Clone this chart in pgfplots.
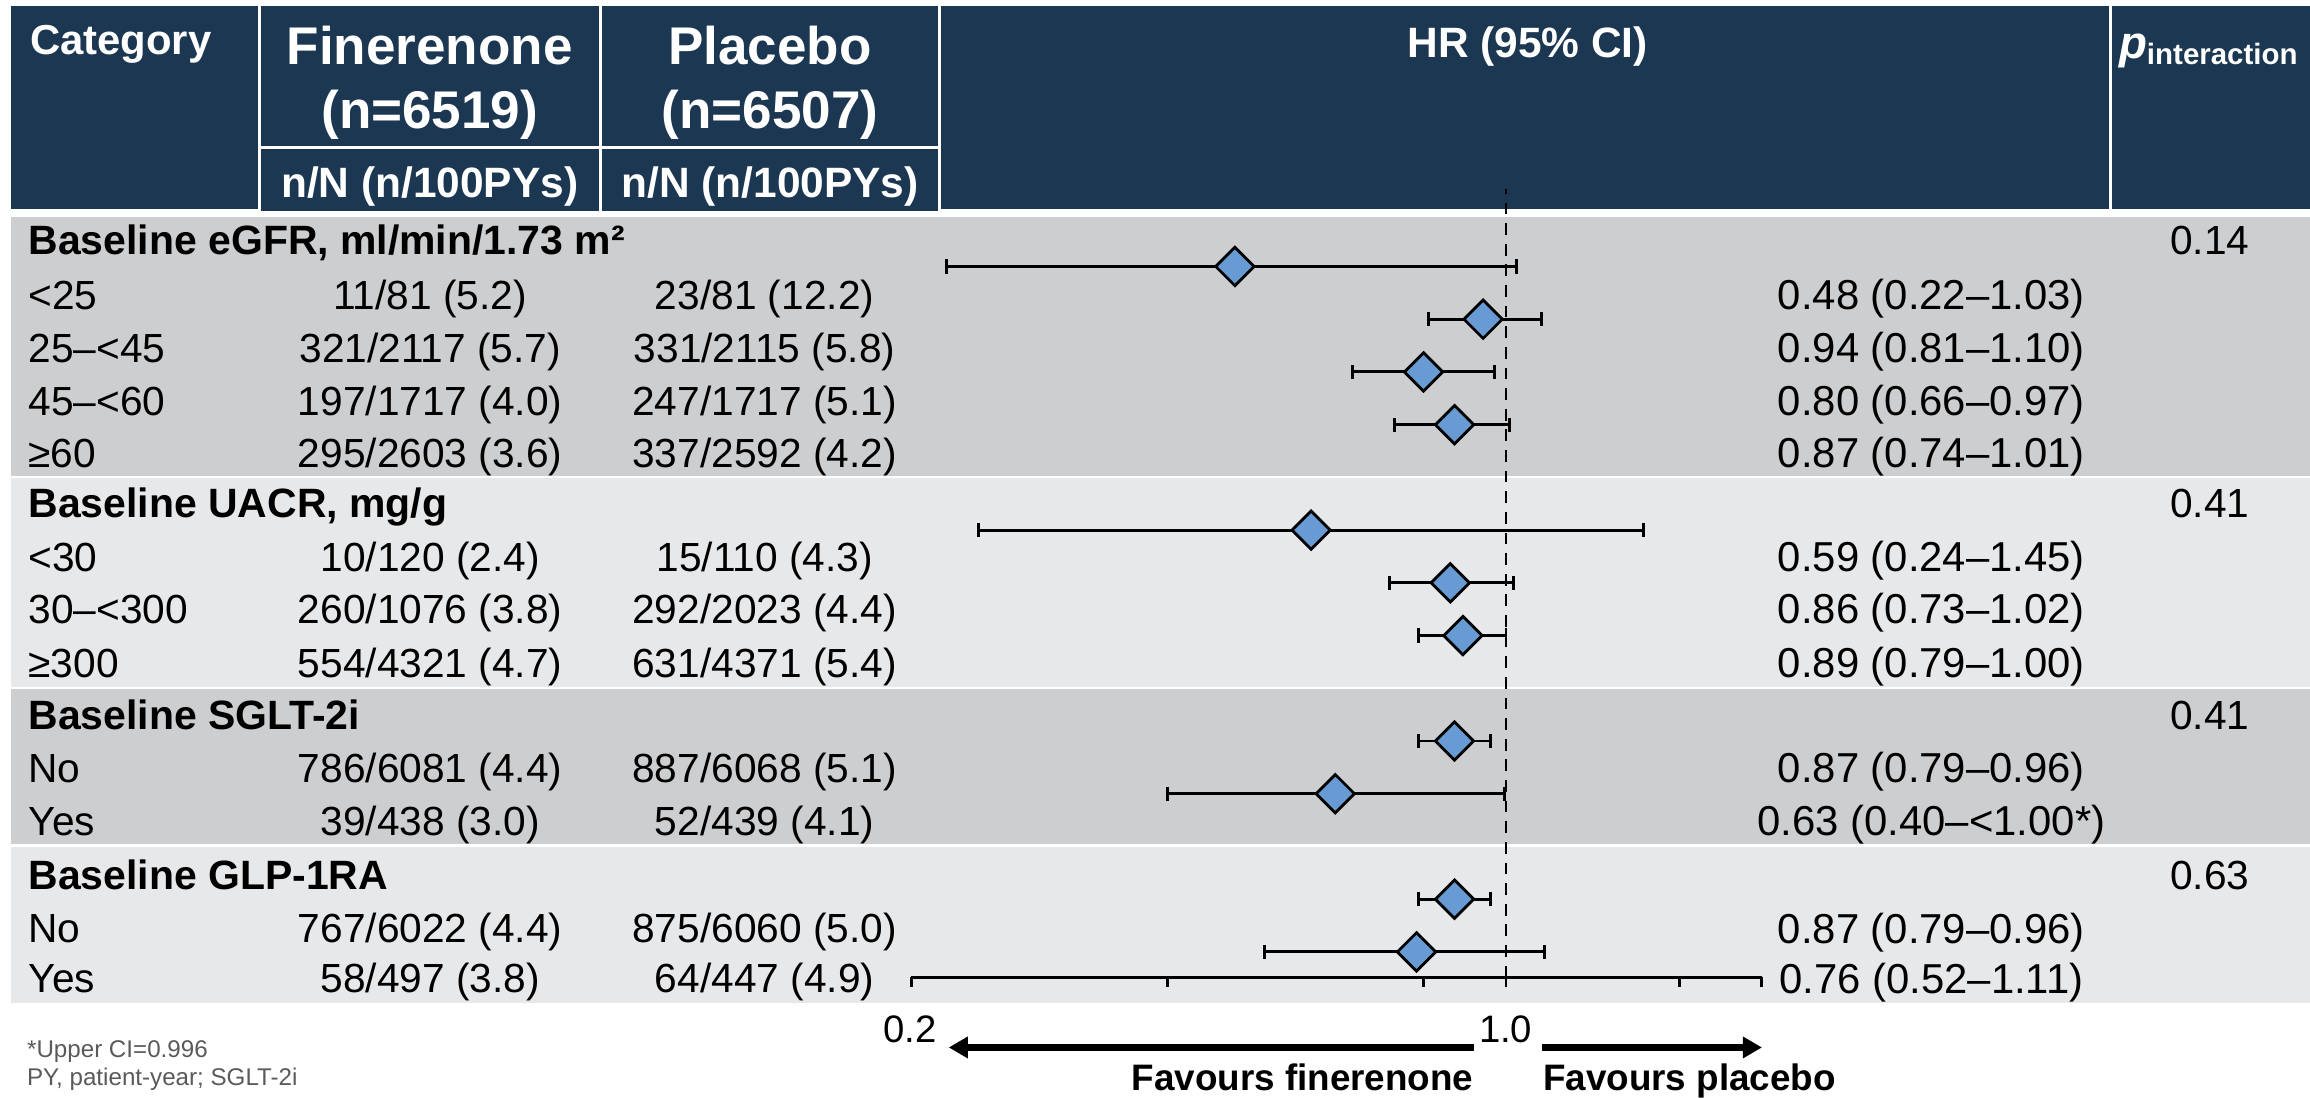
\documentclass[border=0pt]{standalone}
\usepackage{pgfplots}
\pgfplotsset{compat=1.18}
\usepackage{pgfplotstable}
\usetikzlibrary{arrows.meta}
\usepackage{fontspec}
\setmainfont{Liberation Sans}
\definecolor{navy}{RGB}{27,55,81}
\definecolor{bandA}{RGB}{205,206,208}
\definecolor{bandB}{RGB}{231,232,234}
\definecolor{diam}{RGB}{104,155,211}
\definecolor{foot}{RGB}{90,90,90}
\newcommand\fs[1]{\fontsize{#1}{#1}\selectfont}

% HR and 95% CI, y = row position of the marker
\pgfplotstableread{
hr lo hi y
0.48 0.22 1.03 -0.5
0.94 0.81 1.10 -1.5
0.80 0.66 0.97 -2.5
0.87 0.74 1.01 -3.5
0.59 0.24 1.45 -5.5
0.86 0.73 1.02 -6.5
0.89 0.79 1.00 -7.5
0.87 0.79 0.96 -9.5
0.63 0.40 0.996 -10.5
0.87 0.79 0.96 -12.5
0.785 0.52 1.11 -13.5
}\foresttab

\pgfplotstableread{
x y
0.22 -0.5
1.03 -0.5
nan nan
0.81 -1.5
1.10 -1.5
nan nan
0.66 -2.5
0.97 -2.5
nan nan
0.74 -3.5
1.01 -3.5
nan nan
0.24 -5.5
1.45 -5.5
nan nan
0.73 -6.5
1.02 -6.5
nan nan
0.79 -7.5
1.00 -7.5
nan nan
0.79 -9.5
0.96 -9.5
nan nan
0.40 -10.5
0.996 -10.5
nan nan
0.79 -12.5
0.96 -12.5
nan nan
0.52 -13.5
1.11 -13.5
}\citab

\begin{document}
\begin{tikzpicture}
% ---------------- background table (pixel coordinates) ----------------
\begin{axis}[at={(0pt,0pt)}, anchor=south west,
  width=784pt, height=372.5pt, scale only axis,
  xmin=0, xmax=1568, ymin=0, ymax=745, y dir=reverse,
  hide axis, clip=false]
\path (axis cs:0,0) rectangle (axis cs:1568,745);
% header cells
\fill[navy] (axis cs:7.4,4) rectangle (axis cs:174.9,142);
\fill[navy] (axis cs:176.9,4) rectangle (axis cs:406.5,99);
\fill[navy] (axis cs:176.9,101) rectangle (axis cs:406.5,143);
\fill[navy] (axis cs:408.5,4) rectangle (axis cs:636.9,99);
\fill[navy] (axis cs:408.5,101) rectangle (axis cs:636.9,143);
\fill[navy] (axis cs:638.9,4) rectangle (axis cs:1431.5,142);
\fill[navy] (axis cs:1433.5,4) rectangle (axis cs:1568,142);
% bands
\fill[bandA] (axis cs:7.4,147.5) rectangle (axis cs:1568,323);
\fill[bandB] (axis cs:7.4,324.6) rectangle (axis cs:1568,466.5);
\fill[bandA] (axis cs:7.4,468) rectangle (axis cs:1568,573.1);
\fill[bandB] (axis cs:7.4,575.2) rectangle (axis cs:1568,680.6);
% header text
\begin{scope}[every node/.style={inner sep=0pt, text=white}]
\node[anchor=base west, font=\fs{14.2}\bfseries] at (axis cs:20,37) {Category};
\node[anchor=base, font=\fs{18}\bfseries] at (axis cs:291.7,44) {Finerenone};
\node[anchor=base, font=\fs{18}\bfseries] at (axis cs:291.7,87) {(n=6519)};
\node[anchor=base, font=\fs{14.4}\bfseries] at (axis cs:291.7,134) {n/N (n/100PYs)};
\node[anchor=base, font=\fs{18}\bfseries] at (axis cs:522.7,44) {Placebo};
\node[anchor=base, font=\fs{18}\bfseries] at (axis cs:522.7,87) {(n=6507)};
\node[anchor=base, font=\fs{14.4}\bfseries] at (axis cs:522.7,134) {n/N (n/100PYs)};
\node[anchor=base, font=\fs{14.4}\bfseries] at (axis cs:1037,39) {HR (95\% CI)};
\node[anchor=base west] at (axis cs:1438,40) {{\fs{15.5}\bfseries\itshape p}\raisebox{-2pt}{\fs{10}\bfseries interaction}};
\end{scope}
% table rows
\begin{scope}[every node/.style={inner sep=0pt, font=\fs{13.8}}]
\node[anchor=base west, font=\fs{13.9}\bfseries] at (axis cs:19,173) {Baseline eGFR, ml/min/1.73 m²};
\node[anchor=base] at (axis cs:1500,173) {0.14};
\node[anchor=base west] at (axis cs:19,210) {<25};
\node[anchor=base] at (axis cs:292,210) {11/81 (5.2)};
\node[anchor=base] at (axis cs:519,210) {23/81 (12.2)};
\node[anchor=base, font=\fs{14.2}] at (axis cs:1311,210.2) {0.48 (0.22–1.03)};
\node[anchor=base west] at (axis cs:19,246) {25–<45};
\node[anchor=base] at (axis cs:292,246) {321/2117 (5.7)};
\node[anchor=base] at (axis cs:519,246) {331/2115 (5.8)};
\node[anchor=base, font=\fs{14.2}] at (axis cs:1311,246.2) {0.94 (0.81–1.10)};
\node[anchor=base west] at (axis cs:19,282) {45–<60};
\node[anchor=base] at (axis cs:292,282) {197/1717 (4.0)};
\node[anchor=base] at (axis cs:519,282) {247/1717 (5.1)};
\node[anchor=base, font=\fs{14.2}] at (axis cs:1311,282.2) {0.80 (0.66–0.97)};
\node[anchor=base west] at (axis cs:19,317) {≥60};
\node[anchor=base] at (axis cs:292,317) {295/2603 (3.6)};
\node[anchor=base] at (axis cs:519,317) {337/2592 (4.2)};
\node[anchor=base, font=\fs{14.2}] at (axis cs:1311,317.2) {0.87 (0.74–1.01)};
\node[anchor=base west, font=\fs{13.9}\bfseries] at (axis cs:19,351) {Baseline UACR, mg/g};
\node[anchor=base] at (axis cs:1500,351) {0.41};
\node[anchor=base west] at (axis cs:19,388) {<30};
\node[anchor=base] at (axis cs:292,388) {10/120 (2.4)};
\node[anchor=base] at (axis cs:519,388) {15/110 (4.3)};
\node[anchor=base, font=\fs{14.2}] at (axis cs:1311,388.2) {0.59 (0.24–1.45)};
\node[anchor=base west] at (axis cs:19,423) {30–<300};
\node[anchor=base] at (axis cs:292,423) {260/1076 (3.8)};
\node[anchor=base] at (axis cs:519,423) {292/2023 (4.4)};
\node[anchor=base, font=\fs{14.2}] at (axis cs:1311,423.2) {0.86 (0.73–1.02)};
\node[anchor=base west] at (axis cs:19,460) {≥300};
\node[anchor=base] at (axis cs:292,460) {554/4321 (4.7)};
\node[anchor=base] at (axis cs:519,460) {631/4371 (5.4)};
\node[anchor=base, font=\fs{14.2}] at (axis cs:1311,460.2) {0.89 (0.79–1.00)};
\node[anchor=base west, font=\fs{13.9}\bfseries] at (axis cs:19,495) {Baseline SGLT-2i};
\node[anchor=base] at (axis cs:1500,495) {0.41};
\node[anchor=base west] at (axis cs:19,531) {No};
\node[anchor=base] at (axis cs:292,531) {786/6081 (4.4)};
\node[anchor=base] at (axis cs:519,531) {887/6068 (5.1)};
\node[anchor=base, font=\fs{14.2}] at (axis cs:1311,531.2) {0.87 (0.79–0.96)};
\node[anchor=base west] at (axis cs:19,567) {Yes};
\node[anchor=base] at (axis cs:292,567) {39/438 (3.0)};
\node[anchor=base] at (axis cs:519,567) {52/439 (4.1)};
\node[anchor=base, font=\fs{14.2}] at (axis cs:1311,567.2) {0.63 (0.40–<1.00*)};
\node[anchor=base west, font=\fs{13.9}\bfseries] at (axis cs:19,604) {Baseline GLP-1RA};
\node[anchor=base] at (axis cs:1500,604) {0.63};
\node[anchor=base west] at (axis cs:19,640) {No};
\node[anchor=base] at (axis cs:292,640) {767/6022 (4.4)};
\node[anchor=base] at (axis cs:519,640) {875/6060 (5.0)};
\node[anchor=base, font=\fs{14.2}] at (axis cs:1311,640.2) {0.87 (0.79–0.96)};
\node[anchor=base west] at (axis cs:19,674) {Yes};
\node[anchor=base] at (axis cs:292,674) {58/497 (3.8)};
\node[anchor=base] at (axis cs:519,674) {64/447 (4.9)};
\node[anchor=base, font=\fs{14.2}] at (axis cs:1311,674.2) {0.76 (0.52–1.11)};
% axis labels & arrows
\node[anchor=base, font=\fs{13}] at (axis cs:617.6,707.5) {0.2};
\node[anchor=base, font=\fs{13}] at (axis cs:1022,707.5) {1.0};
\node[anchor=base east, font=\fs{12.5}\bfseries] at (axis cs:1000.5,740) {Favours finerenone};
\node[anchor=base west, font=\fs{12.5}\bfseries] at (axis cs:1047,740) {Favours placebo};
% footnotes
\node[anchor=base west, font=\fs{8.2}, text=foot] at (axis cs:18,718) {*Upper CI=0.996};
\node[anchor=base west, font=\fs{8.2}, text=foot] at (axis cs:18,737) {PY, patient-year; SGLT-2i};
\end{scope}
\draw[line width=2.6pt, -{Triangle[length=6.5pt,width=7pt]}] (axis cs:1000.5,711) -- (axis cs:644,711);
\draw[line width=2.6pt, -{Triangle[length=6.5pt,width=7pt]}] (axis cs:1047,711) -- (axis cs:1196,711);
\end{axis}

% ---------------- forest plot ----------------
\begin{axis}[at={(309.35pt,40.75pt)}, anchor=south west,
  width=288.65pt, height=267.75pt, scale only axis,
  xmode=log, log basis x=10, xmin=0.2, xmax=2,
  ymin=-13.985, ymax=0.978,
  axis x line=bottom, axis y line=none,
  axis line style={-, line width=1pt, black},
  every outer x axis line/.append style={-},
  every inner x axis line/.append style={-},
  xtick={0.2,0.4,0.8,1,1.6,2}, xticklabels={},
  minor xtick={},
  tick align=outside, major tick length=3.4pt,
  xtick style={line width=1pt, black},
  clip=false]
\addplot[black, line width=0.75pt, dash pattern=on 4pt off 3pt] coordinates {(1,-13.985) (1,0.978)};
\addplot[black, line width=1pt, mark=|, mark size=2.4pt, mark options={line width=1pt}, unbounded coords=jump] table[x=x, y=y] {\citab};
\addplot[only marks, mark=square*, mark size=4.6pt, mark options={rotate=45, fill=diam, draw=black, line width=0.95pt}] table[x=hr, y=y] {\foresttab};
\end{axis}
\end{tikzpicture}
\end{document}
